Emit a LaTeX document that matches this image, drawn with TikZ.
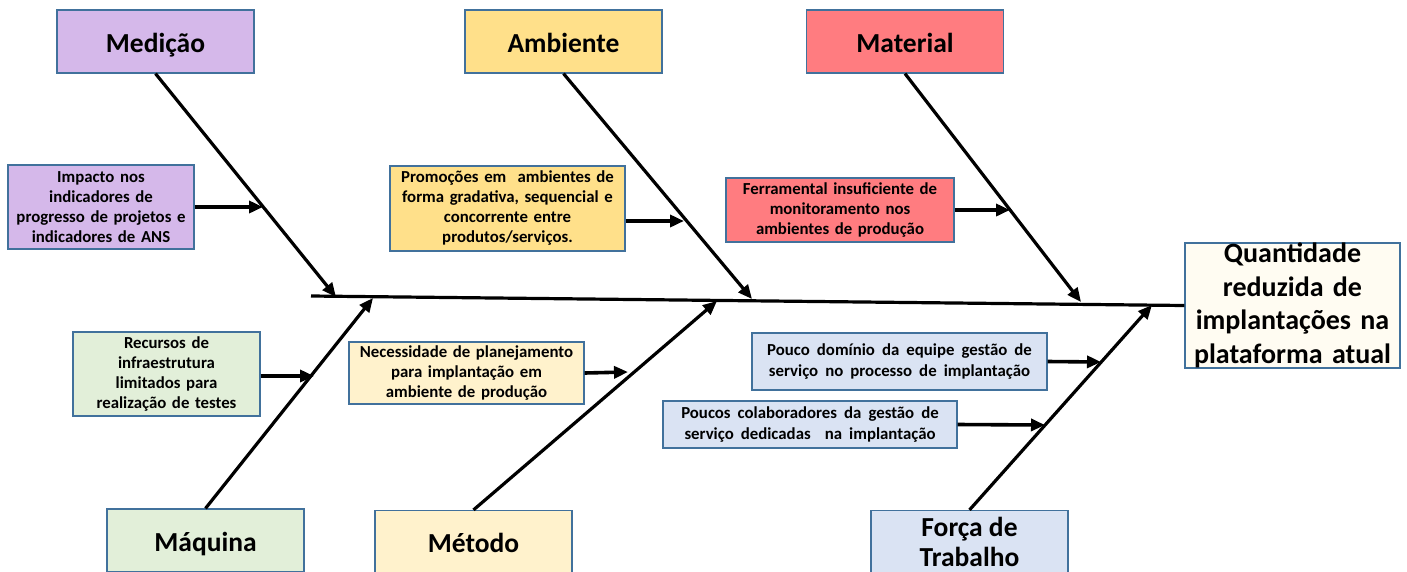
\documentclass[tikz,border=0pt]{standalone}
\usepackage{fontspec}
\setmainfont{Carlito}
\usetikzlibrary{arrows.meta}
\usepackage{xcolor}
\definecolor{borda}{HTML}{41719C}
\definecolor{medicao}{HTML}{D5B8EA}
\definecolor{ambiente}{HTML}{FFE08A}
\definecolor{material}{HTML}{FF7C80}
\definecolor{maquina}{HTML}{E2EFD9}
\definecolor{metodo}{HTML}{FFF2CC}
\definecolor{forca}{HTML}{DAE3F3}
\definecolor{efeito}{HTML}{FFFCF2}
\newcommand\espacolargo{\spaceskip=0.42em\relax}

\begin{document}
\begin{tikzpicture}[x=1pt,y=-1pt,
		categoria/.style={draw=borda,line width=1.2pt,minimum width=197pt,minimum height=63pt,inner sep=0pt,align=center,text height=23pt,text depth=2pt,font=\bfseries\fontsize{27.5}{30}\selectfont},
		causa/.style={draw=borda,line width=1.2pt,inner sep=0pt,align=center,font=\bfseries\fontsize{16.8}{20}\selectfont},
		largo/.style={font=\bfseries\fontsize{16.8}{21}\selectfont},
		osso/.style={line width=3.2pt,-{Triangle[length=14pt,width=12pt]}},
		seta/.style={line width=3.6pt,-{Triangle[length=14pt,width=12pt]}}]
		\useasboundingbox (0,0) rectangle (1407,571);
		% categorias
		\node [categoria,fill=medicao] (med) at (155.5,41.5) {Medição};
		\node [categoria,fill=ambiente] (amb) at (563.5,41.5) {Ambiente};
		\node [categoria,fill=material] (mat) at (905,41.5) {Material};
		\node [categoria,fill=maquina] (maq) at (205.5,540.5) {Máquina};
		\node [categoria,fill=metodo] (met) at (473.5,542) {Método};
		\node [categoria,fill=forca,text height=,text depth=] (for) at (969.5,542) {Força de\\Trabalho};
		% efeito
		\node [draw=borda,line width=1.2pt,fill=efeito,inner sep=0pt,text width=215pt,minimum height=125pt,align=center,font=\bfseries\fontsize{28}{33.5}\selectfont] (efe) at (1292.5,305.5) {Quantidade\\reduzida de\\implantações na\\plataforma atual};
		% espinha
		\coordinate (cauda) at (311,296);
		\draw [line width=3.2pt] (cauda) -- (efe.west);
		\coordinate (p-med) at (336,297);
		\coordinate (p-amb) at (752,299);
		\coordinate (p-mat) at (1081,302);
		\coordinate (p-maq) at (373,298);
		\coordinate (p-met) at (717,301);
		\coordinate (p-for) at (1152,305);
		\draw [osso] (med.south) -- (p-med);
		\draw [osso] (amb.south) -- (p-amb);
		\draw [osso] (mat.south) -- (p-mat);
		\draw [osso] (maq.north) -- (p-maq);
		\draw [osso] (met.north) -- (p-met);
		\draw [osso] (for.north) -- (p-for);
		% causas
		\node [causa,fill=medicao,text width=186pt,minimum height=84pt] (imp) at (101,207) {Impacto nos\\indicadores de\\progresso de projetos e\\indicadores de ANS};
		\node [causa,fill=ambiente,text width=235pt,minimum height=85pt] (prom) at (507.5,208.5) {Promoções em\ \ ambientes de\\forma gradativa, sequencial e\\concorrente entre\\produtos/serviços.};
		\node [causa,fill=material,text width=228pt,minimum height=64pt] (ferr) at (840,210) {Ferramental insuficiente de\\monitoramento nos\\ambientes de produção};
		\node [causa,fill=maquina,text width=187pt,minimum height=84pt] (rec) at (166.5,374) {Recursos de\\infraestrutura\\limitados para\\realização de testes};
		\node [causa,fill=metodo,text width=235pt,minimum height=62pt] (nec) at (466.5,373) {Necessidade de planejamento\\para implantação em\\ambiente de produção};
		\node [causa,largo,fill=forca,text width=295pt,minimum height=57pt] (dom) at (899.5,361.5) {\espacolargo Pouco domínio da equipe gestão de\\serviço no processo de implantação};
		\node [causa,largo,fill=forca,text width=294pt,minimum height=47pt] (col) at (810,424.5) {\espacolargo Poucos colaboradores\ da gestão de\\serviço dedicadas\ \ na implantação};
		\coordinate (c-imp) at (263,207);
		\coordinate (c-prom) at (684,221);
		\coordinate (c-ferr) at (1010,210);
		\coordinate (c-rec) at (314,376);
		\coordinate (c-nec) at (628,372);
		\coordinate (c-dom) at (1101,362);
		\coordinate (c-col) at (1045,425);
		\draw [seta] (imp.east) -- (c-imp);
		\draw [seta] (prom.east |- c-prom) -- (c-prom);
		\draw [seta] (ferr.east) -- (c-ferr);
		\draw [seta] (rec.east |- c-rec) -- (c-rec);
		\draw [seta] (nec.east) -- (c-nec);
		\draw [seta] (dom.east) -- (c-dom);
		\draw [seta] (col.east) -- (c-col);
	\end{tikzpicture}
\end{document}
